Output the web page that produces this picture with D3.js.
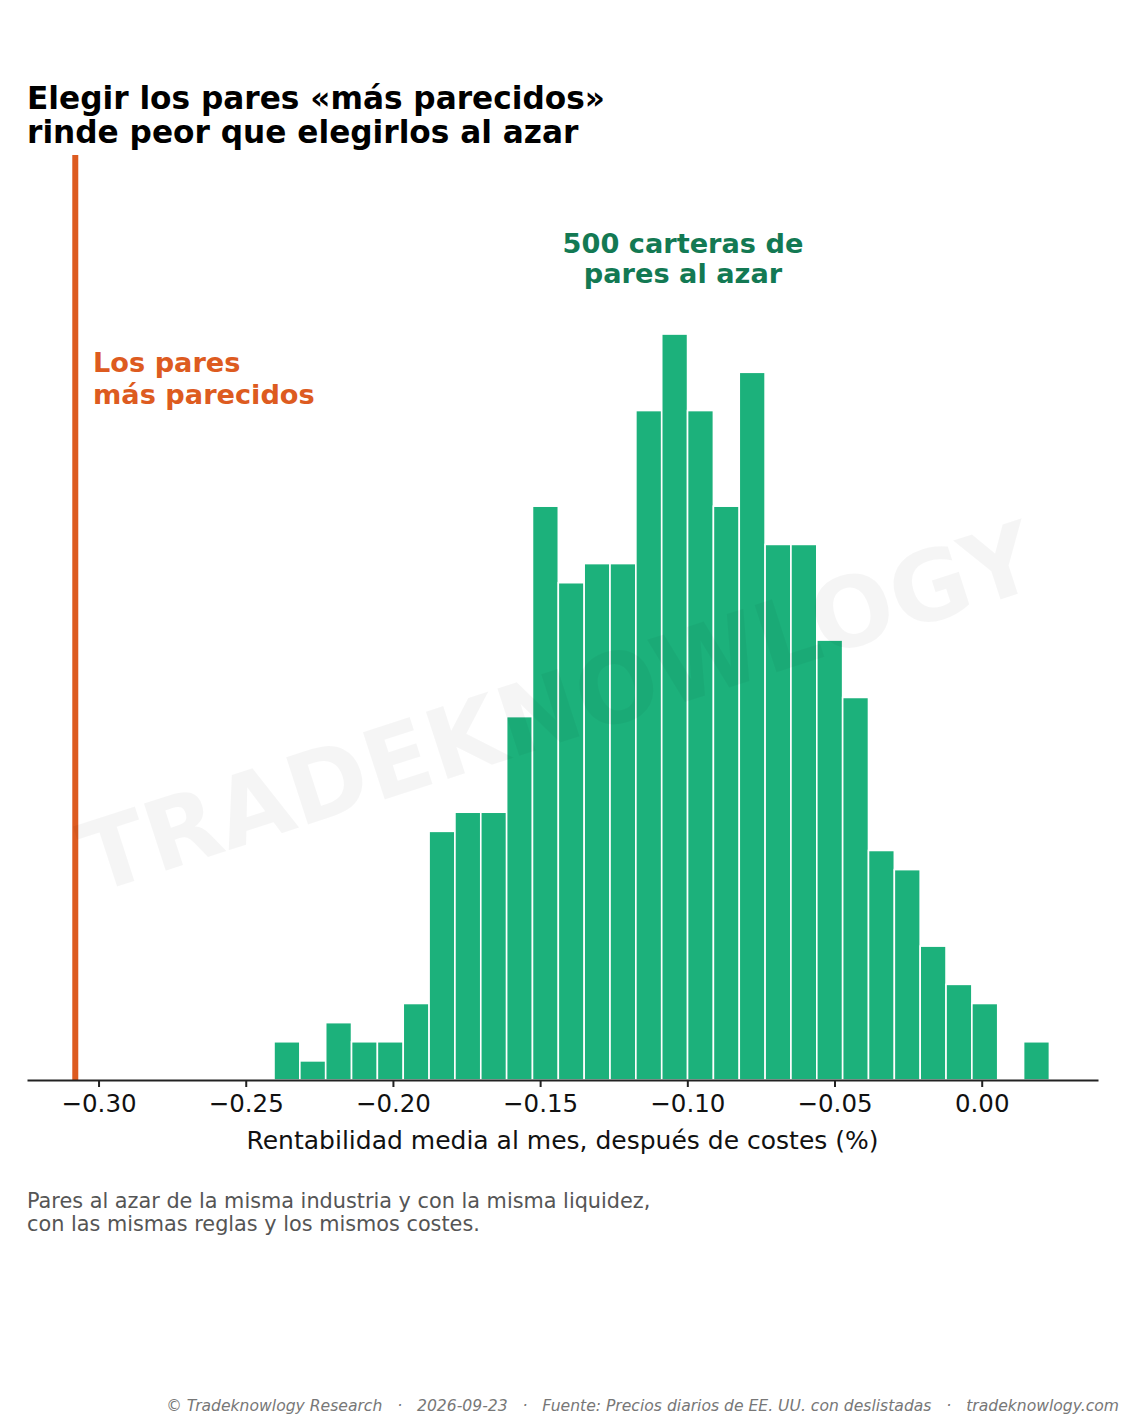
<!DOCTYPE html>
<html lang="es">
<head>
  <meta charset="UTF-8">
  <title>Pares más parecidos vs. al azar</title>
  <script src="https://d3js.org/d3.v7.min.js"></script>
  <style>
    body { margin: 0; background: #fff; }
    text { font-family: 'DejaVu Sans', sans-serif; }
  </style>
</head>
<body>
  <div id="canvas"></div>
  <script>
    // histogram of 500 random pair portfolios (counts per bin)
    const counts = [2, 1, 3, 2, 2, 4, 13, 14, 14, 19, 30, 26, 27, 27, 35,
                    39, 35, 30, 37, 28, 28, 23, 20, 12, 11, 7, 5, 4, 0, 2];
    const binStart = -0.2404;
    const binWidth = 0.00878;
    // the "most similar" pairs result
    const closestPairs = -0.3079;
    const xTicks = [-0.30, -0.25, -0.20, -0.15, -0.10, -0.05, 0.00];
    const xDomain = [-0.3243, 0.0395];
    const yMax = 48.36;

    const width = 1125;
    const height = 1425;
    const plotLeft = 27, plotRight = 1098, plotTop = 155, plotBottom = 1080;

    const svg = d3.select('#canvas')
      .append('svg')
      .attr('width', width)
      .attr('height', height);

    const x = d3.scaleLinear().domain(xDomain).range([plotLeft, plotRight]);
    const y = d3.scaleLinear().domain([0, yMax]).range([plotBottom, plotTop]);

    const bins = counts.map((c, i) => ({
      x0: binStart + i * binWidth,
      x1: binStart + (i + 1) * binWidth,
      n: c
    }));

    svg.append('g')
      .selectAll('rect')
      .data(bins.filter(d => d.n > 0))
      .enter()
      .append('rect')
      .attr('x', d => x(d.x0))
      .attr('y', d => y(d.n))
      .attr('width', d => x(d.x1) - x(d.x0))
      .attr('height', d => y(0) - y(d.n))
      .attr('fill', '#1cb17b')
      .attr('stroke', '#fff')
      .attr('stroke-width', 1.6);

    svg.append('line')
      .attr('x1', x(closestPairs))
      .attr('x2', x(closestPairs))
      .attr('y1', y(yMax))
      .attr('y2', y(0))
      .attr('stroke', '#dd5b20')
      .attr('stroke-width', 6);

    const xAxis = d3.axisBottom(x)
      .tickValues(xTicks)
      .tickFormat(d => d3.format('.2f')(d).replace('-', '\u2212'))
      .tickSize(7)
      .tickSizeOuter(0)
      .tickPadding(8);

    const gx = svg.append('g')
      .attr('transform', 'translate(0,' + plotBottom + ')')
      .call(xAxis);
    gx.select('.domain').attr('stroke', '#222').attr('stroke-width', 2);
    gx.selectAll('.tick line').attr('stroke', '#222').attr('stroke-width', 2);
    gx.selectAll('.tick text')
      .attr('fill', '#111')
      .style('font-size', '24.5px')
      .style('font-family', "'DejaVu Sans', sans-serif");

    // watermark, over the bars
    svg.append('text')
      .attr('transform', 'translate(558,708) rotate(-18)')
      .attr('text-anchor', 'middle')
      .attr('dominant-baseline', 'central')
      .style('font-size', '97px')
      .style('font-weight', 'bold')
      .attr('fill', '#000')
      .attr('fill-opacity', 0.04)
      .text('TRADEKNOWLOGY');

    svg.append('text')
      .attr('x', (plotLeft + plotRight) / 2)
      .attr('y', 1149)
      .attr('text-anchor', 'middle')
      .style('font-size', '25px')
      .attr('fill', '#111')
      .text('Rentabilidad media al mes, después de costes (%)');

    // title
    const title = ['Elegir los pares «más parecidos»', 'rinde peor que elegirlos al azar'];
    svg.append('g').selectAll('text')
      .data(title)
      .enter()
      .append('text')
      .attr('x', 27)
      .attr('y', (d, i) => 109 + i * 34)
      .style('font-size', '31.2px')
      .style('font-weight', 'bold')
      .attr('fill', '#000')
      .text(d => d);

    // annotations
    const randomLabel = ['500 carteras de', 'pares al azar'];
    svg.append('g').selectAll('text')
      .data(randomLabel)
      .enter()
      .append('text')
      .attr('x', 683)
      .attr('y', (d, i) => 253 + i * 30)
      .attr('text-anchor', 'middle')
      .style('font-size', '27.2px')
      .style('font-weight', 'bold')
      .attr('fill', '#137953')
      .text(d => d);

    const closestLabel = ['Los pares', 'más parecidos'];
    svg.append('g').selectAll('text')
      .data(closestLabel)
      .enter()
      .append('text')
      .attr('x', 93)
      .attr('y', (d, i) => 372 + i * 32)
      .style('font-size', '27.2px')
      .style('font-weight', 'bold')
      .attr('fill', '#dd5b20')
      .text(d => d);

    // subtitle
    const note = ['Pares al azar de la misma industria y con la misma liquidez,',
                  'con las mismas reglas y los mismos costes.'];
    svg.append('g').selectAll('text')
      .data(note)
      .enter()
      .append('text')
      .attr('x', 27)
      .attr('y', (d, i) => 1208 + i * 23)
      .style('font-size', '20.8px')
      .attr('fill', '#555')
      .text(d => d);

    svg.append('text')
      .attr('x', 1119)
      .attr('y', 1411)
      .attr('text-anchor', 'end')
      .style('font-size', '15.6px')
      .style('font-style', 'italic')
      .attr('fill', '#777')
      .attr('xml:space', 'preserve')
      .text('© Tradeknowlogy Research   ·   2026-09-23   ·   Fuente: Precios diarios de EE. UU. con deslistadas   ·   tradeknowlogy.com');
  </script>
</body>
</html>
